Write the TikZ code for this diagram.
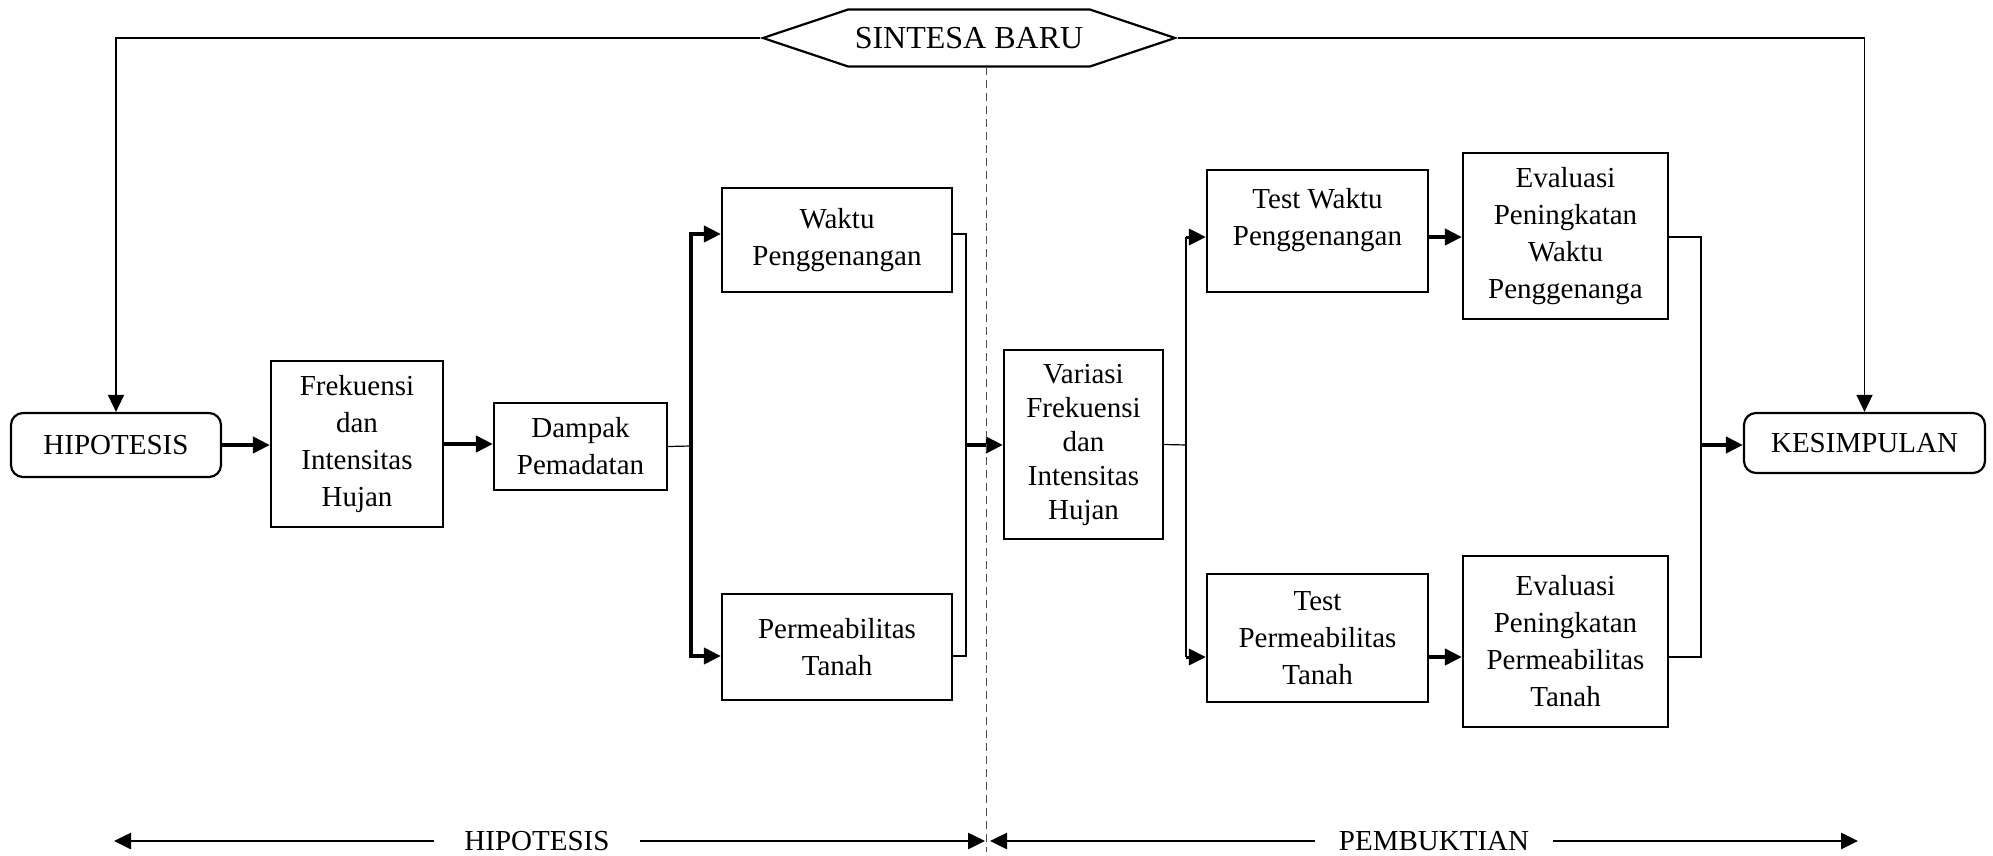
\documentclass[tikz,border=0pt]{standalone}
\usepackage{fontspec}
\setmainfont{Liberation Serif}
\usetikzlibrary{arrows.meta, shapes.symbols, calc}
\tikzset{>={Triangle[length=8.5pt,width=8pt]}}
\tikzset{
  box/.style={draw, line width=1.1pt, align=center, inner sep=2pt},
  roundbox/.style={box, rounded corners=6pt},
  flow/.style={->, line width=2pt},
  thinline/.style={line width=0.6pt},
  axisline/.style={->, line width=1.3pt},
}

\begin{document}
\begin{tikzpicture}[x=0.5pt, y=-0.5pt, font=\fontsize{14.5}{18.5}\selectfont]
\useasboundingbox (0,0) rectangle (1993,856);

% boxes
\node[box, signal, signal to=west and east, signal pointer angle=37, minimum width=206pt, minimum height=28.5pt, font=\fontsize{16}{19}\selectfont] (sintesa) at (969,38) {SINTESA BARU};
\node[roundbox, minimum width=105pt, minimum height=32pt] (hipo) at (116,445) {HIPOTESIS};
\node[box, minimum width=86pt, minimum height=83pt] (frek) at (357,444) {Frekuensi\\dan\\Intensitas\\Hujan};
\node[box, minimum width=86.5pt, minimum height=43.5pt] (dampak) at (580.5,446.5) {Dampak\\Pemadatan};
\node[box, minimum width=115pt, minimum height=52pt] (waktu) at (837,240) {Waktu\\Penggenangan};
\node[box, minimum width=115pt, minimum height=53pt] (perm) at (837,647) {Permeabilitas\\Tanah};
\node[box, minimum width=79.5pt, minimum height=94.5pt, font=\fontsize{14.5}{17}\selectfont] (variasi) at (1083.5,444.5) {Variasi\\Frekuensi\\dan\\Intensitas\\Hujan};
\node[box, minimum width=110.5pt, minimum height=61pt] (testw) at (1317.5,231) {Test Waktu\\Penggenangan\rule[-14pt]{0pt}{0pt}};
\node[box, minimum width=110.5pt, minimum height=64pt] (testp) at (1317.5,638) {Test\\Permeabilitas\\Tanah};
\node[box, minimum width=102.5pt, minimum height=83pt] (evalw) at (1565.5,236) {Evaluasi\\Peningkatan\\Waktu\\Penggenanga};
\node[box, minimum width=102.5pt, minimum height=85.5pt] (evalp) at (1565.5,641.5) {Evaluasi\\Peningkatan\\Permeabilitas\\Tanah};
\node[roundbox, minimum width=120.5pt, minimum height=30pt] (kesim) at (1864.5,443) {KESIMPULAN};

% top loop
\draw[->, line width=0.8pt] (sintesa.west) -| (hipo.north);
\draw[->, line width=0.8pt] (sintesa.east) -| (kesim.north);

% hipotesis side
\draw[flow] (hipo.east) -- (hipo.east -| frek.west);
\draw[flow] (frek.east) -- (frek.east -| dampak.west);
\coordinate (busL) at (691,446);
\draw[thinline] (dampak.east) -- (busL);
\draw[flow] (busL) |- ([yshift=3pt]waktu.west);
\draw[flow] (busL) |- ([yshift=-4.5pt]perm.west);
\coordinate (brL) at (966,445);
\draw[thinline] ([yshift=3pt]waktu.east) -| (brL) |- ([yshift=-4.5pt]perm.east);
\draw[flow] (brL) -- (brL -| variasi.west);

% pembuktian side
\coordinate (busR) at (1186,445);
\coordinate (rt) at (1186,237);
\coordinate (rb) at (1186,657);
\draw[thinline] (variasi.east) -- (busR);
\draw[thinline] (rt) -- (rb);
\draw[->, line width=1.5pt] (rt) -- (rt -| testw.west);
\draw[->, line width=1.5pt] (rb) -- (rb -| testp.west);
\draw[flow] (testw.east |- rt) -- (evalw.west |- rt);
\draw[flow] (testp.east |- rb) -- (evalp.west |- rb);
\coordinate (brR) at (1701,445);
\draw[thinline] (evalw.east |- rt) -| (brR) |- (evalp.east |- rb);
\draw[flow] (brR) -- (brR -| kesim.west);

% divider
\draw[dash pattern=on 4pt off 2.5pt, line width=0.5pt, gray!60!black] (986,67) -- (986,852);

% bottom axis
\node[inner xsep=15pt] (lblhipo) at (537,841) {HIPOTESIS};
\node[inner xsep=12pt] (lblbukti) at (1434,841) {PEMBUKTIAN};
\coordinate (hl) at (114,841);
\coordinate (hr) at (985,841);
\coordinate (bl) at (990,841);
\coordinate (br) at (1858,841);
\draw[axisline] (lblhipo.west) -- (hl);
\draw[axisline] (lblhipo.east) -- (hr);
\draw[axisline] (lblbukti.west) -- (bl);
\draw[axisline] (lblbukti.east) -- (br);
\end{tikzpicture}
\end{document}
